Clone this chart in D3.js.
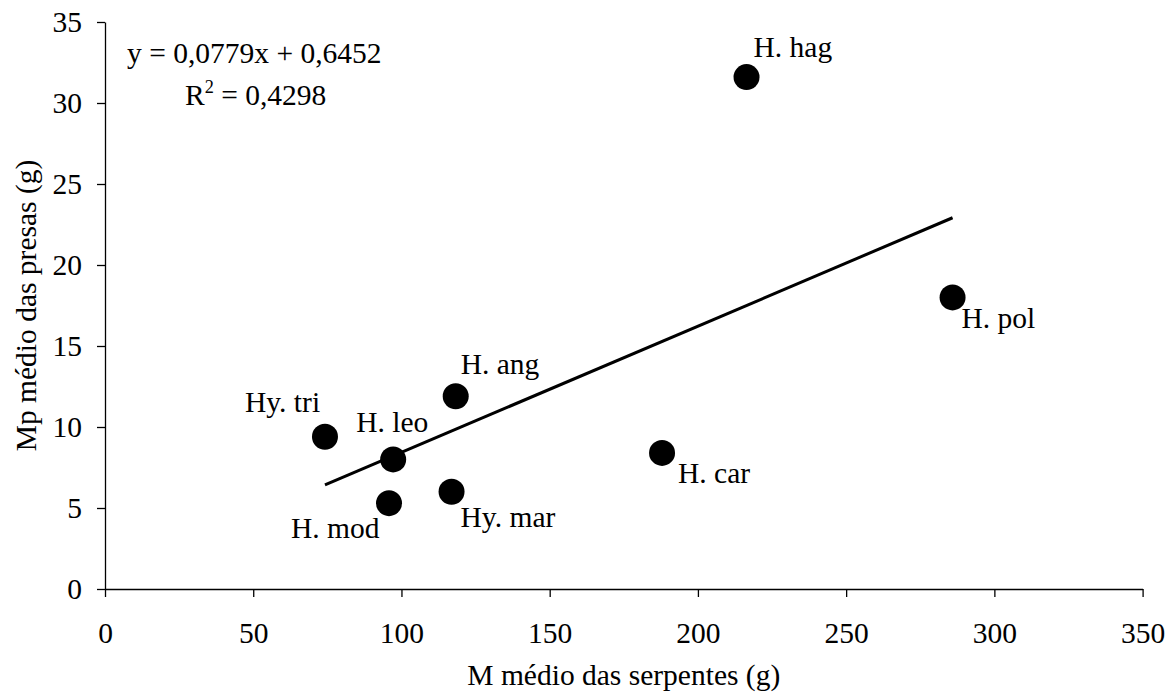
<!DOCTYPE html>
<html>
<head>
<meta charset="utf-8">
<script src="https://cdn.jsdelivr.net/npm/d3@7/dist/d3.min.js"></script>
<style>
  html, body { margin: 0; padding: 0; background: #fff; }
  svg text { font-family: "Liberation Serif", "Times New Roman", Times, "DejaVu Serif", serif; }
</style>
</head>
<body>
<svg id="chart" width="1176" height="700"></svg>
<script>
// Species means: snake body mass (x) vs. prey mass (y)
const species = ["H. hag", "H. pol", "H. ang", "Hy. tri", "H. leo", "H. mod", "Hy. mar", "H. car"];
const snakeMass = [216.4, 285.9, 118.3, 74.2, 97.2, 95.8, 116.9, 187.9];
const preyMass = [31.6, 18.0, 11.9, 9.4, 8.0, 5.3, 6.0, 8.4];
// Label offsets relative to each point (px)
const labelDx = [7, 9, 5, -80, -37, -98, 9, 16];
const labelDy = [-20, 31, -22, -25, -27, 35, 35, 30];

const xTicks = [0, 50, 100, 150, 200, 250, 300, 350];
const yTicks = [0, 5, 10, 15, 20, 25, 30, 35];

// Linear fit reported on the chart
const slope = 0.0779, intercept = 0.6452, r2 = "0,4298";

const svg = d3.select("#chart");
const x = d3.scaleLinear().domain([0, 350]).range([105, 1142.6]);
const y = d3.scaleLinear().domain([0, 35]).range([589, 22]);

const fs = 29.5;
const ff = '"Liberation Serif", "Times New Roman", Times, "DejaVu Serif", serif';

// axes
const xAxis = svg.append("g").attr("transform", `translate(0,${y(0)})`)
  .call(d3.axisBottom(x).tickValues(xTicks).tickSize(8).tickSizeOuter(0).tickFormat(d3.format("d")));
xAxis.attr("font-family", ff).attr("font-size", fs);
xAxis.select(".domain").attr("stroke", "#000").attr("stroke-width", 1.3);
xAxis.selectAll(".tick line").attr("stroke", "#000").attr("stroke-width", 1.3);
xAxis.selectAll(".tick text").attr("fill", "#000").attr("y", 54).attr("dy", 0);

const yAxis = svg.append("g").attr("transform", `translate(${x(0)},0)`)
  .call(d3.axisLeft(y).tickValues(yTicks).tickSize(8).tickSizeOuter(0).tickFormat(d3.format("d")));
yAxis.attr("font-family", ff).attr("font-size", fs);
yAxis.select(".domain").attr("stroke", "#000").attr("stroke-width", 1.3);
yAxis.selectAll(".tick text").attr("fill", "#000").attr("x", -23);
yAxis.selectAll(".tick line").attr("stroke", "#000").attr("stroke-width", 1.3);

// trend line over the range of observed snake mass
const xMin = d3.min(snakeMass), xMax = d3.max(snakeMass);
svg.append("line")
  .attr("x1", x(xMin)).attr("y1", y(slope * xMin + intercept))
  .attr("x2", x(xMax)).attr("y2", y(slope * xMax + intercept))
  .attr("stroke", "#000").attr("stroke-width", 3);

// points
svg.append("g").selectAll("circle").data(species).join("circle")
  .attr("cx", (d, i) => x(snakeMass[i]))
  .attr("cy", (d, i) => y(preyMass[i]))
  .attr("r", 13)
  .attr("fill", "#000");

// point labels
svg.append("g").selectAll("text").data(species).join("text")
  .attr("x", (d, i) => x(snakeMass[i]) + labelDx[i])
  .attr("y", (d, i) => y(preyMass[i]) + labelDy[i])
  .attr("font-size", fs)
  .attr("fill", "#000")
  .text(d => d);

// equation
svg.append("text").attr("x", 127).attr("y", 63).attr("font-size", fs).attr("fill", "#000")
  .text("y = 0,0779x + 0,6452");
const rt = svg.append("text").attr("x", 185).attr("y", 105).attr("font-size", fs).attr("fill", "#000");
rt.append("tspan").text("R");
rt.append("tspan").attr("font-size", fs * 0.62).attr("dy", -12).text("2");
rt.append("tspan").attr("dy", 12).text(" = " + r2);

// axis titles
svg.append("text").attr("x", (x(0) + x(350)) / 2).attr("y", 685).attr("text-anchor", "middle")
  .attr("font-size", fs).attr("fill", "#000").text("M médio das serpentes (g)");
svg.append("text").attr("transform", `translate(36,${(y(0) + y(35)) / 2}) rotate(-90)`)
  .attr("text-anchor", "middle").attr("font-size", fs).attr("fill", "#000")
  .text("Mp médio das presas (g)");
</script>
</body>
</html>
